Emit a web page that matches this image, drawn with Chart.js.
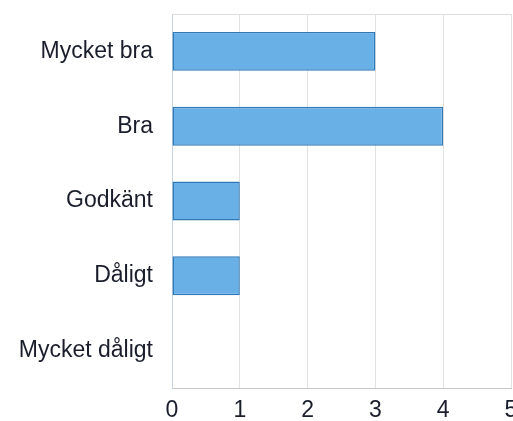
<!DOCTYPE html>
<html>
<head>
<meta charset="utf-8">
<script src="https://cdn.jsdelivr.net/npm/chart.js@4"></script>
<style>
	html, body { margin: 0; padding: 0; background: #fff; }
	#wrap { width: 513px; height: 421px; }
</style>
</head>
<body>
<div id="wrap"><canvas id="ratingChart" width="513" height="421"></canvas></div>
<script>
const categories = ["Mycket bra", "Bra", "Godkänt", "Dåligt", "Mycket dåligt"];
const counts = [3, 4, 1, 1, 0];
const xTicks = [0, 1, 2, 3, 4, 5];

// top edge of the plot frame
const frame = {
	id: "frame",
	beforeDatasetsDraw(chart) {
		const { ctx, chartArea: a } = chart;
		ctx.save();
		ctx.strokeStyle = "#dcdcdc";
		ctx.lineWidth = 1;
		ctx.beginPath();
		ctx.moveTo(a.left, a.top + 0.5);
		ctx.lineTo(a.right, a.top + 0.5);
		ctx.stroke();
		ctx.restore();
	},
};

const labelFont = { family: "Liberation Sans, Arial", size: 23 };

const ratingCanvas = document.getElementById("ratingChart");
new Chart(ratingCanvas, {
	type: "bar",
	data: {
		labels: categories,
		datasets: [
			{
				data: counts,
				backgroundColor: "#69b0e6",
				borderColor: "#2f79b9",
				borderWidth: 1.5,
				borderSkipped: false,
				barPercentage: 0.52,
				categoryPercentage: 1,
			},
		],
	},
	options: {
		indexAxis: "y",
		responsive: false,
		animation: false,
		layout: { padding: { top: 14, right: 2, left: 0, bottom: 0 } },
		plugins: { legend: { display: false }, tooltip: { enabled: false } },
		scales: {
			x: {
				min: 0,
				max: 5,
				afterBuildTicks: (scale) => {
					scale.ticks = xTicks.map((v) => ({ value: v }));
				},
				afterFit: (scale) => {
					scale.height = 33;
					scale.paddingLeft = 0;
					scale.paddingRight = 0;
				},
				grid: { color: "#e2e2e2", drawTicks: false },
				border: { color: "#c9c9c9" },
				ticks: { padding: 9, color: "#1a1d2c", font: labelFont },
			},
			y: {
				afterFit: (scale) => {
					scale.width = 172;
					scale.paddingTop = 0;
					scale.paddingBottom = 0;
				},
				grid: { display: false },
				border: { color: "#c6d3e2" },
				ticks: { padding: 11, color: "#1a1d2c", font: labelFont },
			},
		},
	},
	plugins: [frame],
});
</script>
</body>
</html>
